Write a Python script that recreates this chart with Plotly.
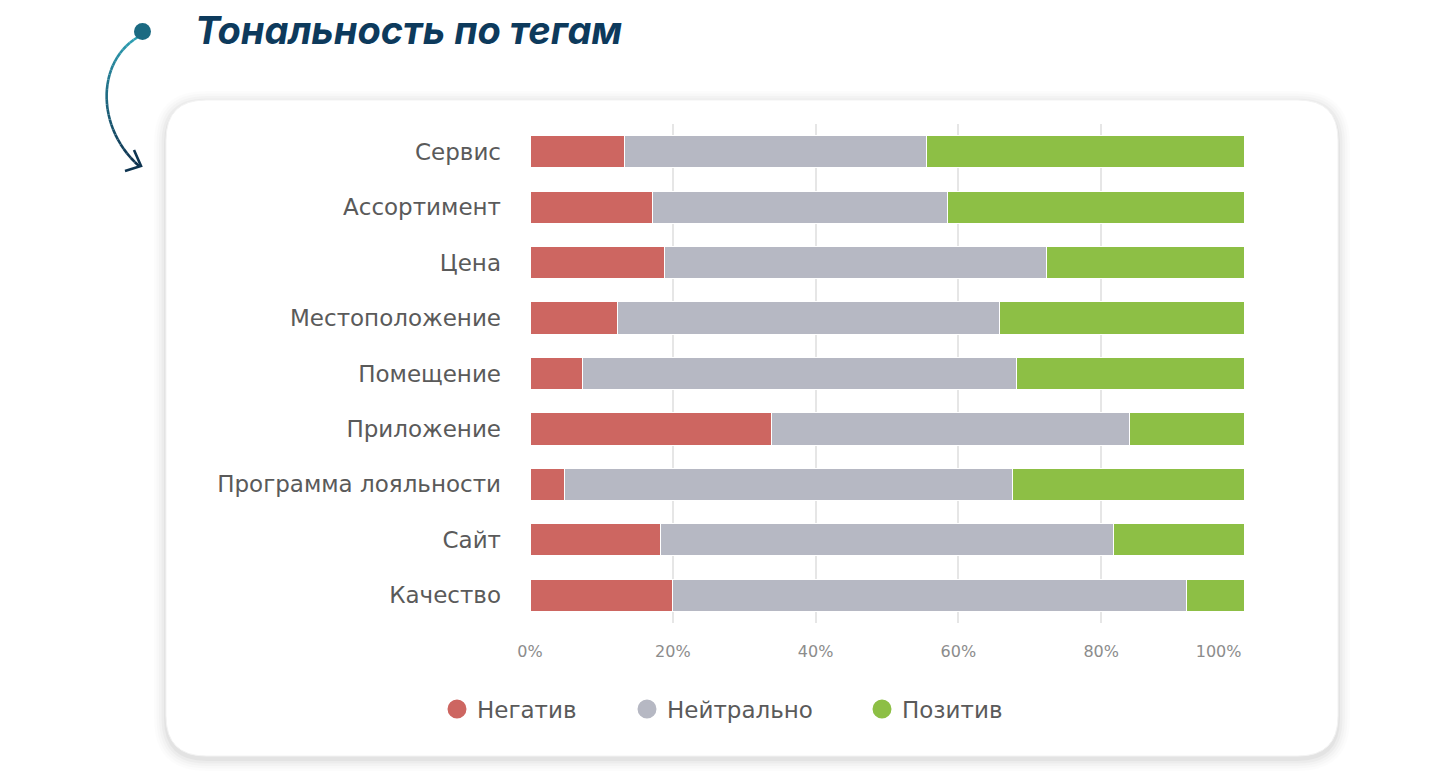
import plotly.graph_objects as go
import numpy as np

categories = ["Сервис", "Ассортимент", "Цена", "Местоположение", "Помещение",
              "Приложение", "Программа лояльности", "Сайт", "Качество"]
negative = [13.3, 17.1, 18.9, 12.2, 7.3, 33.8, 4.9, 18.3, 20.0]
neutral = [42.3, 41.4, 53.4, 53.6, 60.9, 50.1, 62.7, 63.4, 72.0]
positive = [44.4, 41.5, 27.7, 34.2, 31.8, 16.1, 32.4, 18.3, 8.0]
series_names = ["Негатив", "Нейтрально", "Позитив"]
tick_vals = [0, 20, 40, 60, 80, 100]
tick_text = ["0%", "20%", "40%", "60%", "80%", "100%"]
title_text = "Тональность по тегам"

colors = ["#cd6661", "#b6b8c3", "#8dbf45"]
FONT = "DejaVu Sans"

W, H = 1440, 781
L, R, T, B = 530, 196, 124, 158
PW, PH = W - L - R, H - T - B


def px(x):
    return (x - L) / PW


def py(y):
    return (H - B - y) / PH


fig = go.Figure()
for name, vals, c in zip(series_names, [negative, neutral, positive], colors):
    fig.add_trace(go.Bar(
        y=categories, x=vals, name=name, orientation="h",
        marker=dict(color=c, line=dict(color="white", width=1)),
        showlegend=False, width=0.58,
    ))

legend_keys = ["legend", "legend2", "legend3"]
for name, c, lk in zip(series_names, colors, legend_keys):
    fig.add_trace(go.Scatter(
        x=[None], y=[None], mode="markers", name=name,
        marker=dict(color=c, size=16, symbol="circle", line=dict(color=c, width=3)),
        legend=lk, showlegend=True,
    ))

shapes = []


def rrect(x0, y0, x1, y1, r):
    pts = [f"M {px(x0 + r)},{py(y0)}",
           f"L {px(x1 - r)},{py(y0)}",
           f"Q {px(x1)},{py(y0)} {px(x1)},{py(y0 + r)}",
           f"L {px(x1)},{py(y1 - r)}",
           f"Q {px(x1)},{py(y1)} {px(x1 - r)},{py(y1)}",
           f"L {px(x0 + r)},{py(y1)}",
           f"Q {px(x0)},{py(y1)} {px(x0)},{py(y1 - r)}",
           f"L {px(x0)},{py(y0 + r)}",
           f"Q {px(x0)},{py(y0)} {px(x0 + r)},{py(y0)} Z"]
    return " ".join(pts)


for i, op in enumerate([0.012, 0.016, 0.02, 0.026, 0.034]):
    d = 12 - i * 2.5
    shapes.append(dict(type="path", xref="paper", yref="paper", layer="below",
                       path=rrect(166 - d, 100 - d + 3, 1338 + d, 756 + d + 3, 40 + d),
                       fillcolor=f"rgba(0,0,0,{op})", line=dict(width=0)))
shapes.append(dict(type="path", xref="paper", yref="paper", layer="below",
                   path=rrect(166, 100, 1338, 756, 40),
                   fillcolor="white", line=dict(color="#f3f3f3", width=1)))

# decorative curved arrow with gradient
P0, P1, P2, P3 = np.array([138, 37]), np.array([96, 62]), np.array([96, 128]), np.array([139, 166])
ts = np.linspace(0, 1, 30)
c0, c1 = np.array([48, 165, 185]), np.array([14, 50, 78])
prev = None
for t in ts:
    p = (1 - t) ** 3 * P0 + 3 * (1 - t) ** 2 * t * P1 + 3 * (1 - t) * t ** 2 * P2 + t ** 3 * P3
    if prev is not None:
        col = c0 + (c1 - c0) * t
        shapes.append(dict(type="line", xref="paper", yref="paper",
                           x0=px(prev[0]), y0=py(prev[1]), x1=px(p[0]), y1=py(p[1]),
                           line=dict(color=f"rgb({int(col[0])},{int(col[1])},{int(col[2])})", width=2.6)))
    prev = p
shapes.append(dict(type="path", xref="paper", yref="paper",
                   path=f"M {px(125)},{py(171)} L {px(141)},{py(166)} L {px(134)},{py(150)}",
                   line=dict(color="#0e3450", width=2.6)))
shapes.append(dict(type="circle", xref="paper", yref="paper",
                   x0=px(134), y0=py(23), x1=px(151), y1=py(40),
                   fillcolor="#1b6a82", line=dict(width=0)))

tick_disp = list(tick_text)
tick_disp[-1] = tick_disp[-1] + "\u00a0" * 10

legend_font = dict(family=FONT, size=23, color="#5a5a5a")
fig.update_layout(
    width=W, height=H,
    margin=dict(l=L, r=R, t=T, b=B),
    paper_bgcolor="white", plot_bgcolor="rgba(0,0,0,0)",
    barmode="stack",
    shapes=shapes,
    font=dict(family=FONT, color="#5a5a5a"),
    xaxis=dict(range=[0, 100], tickvals=tick_vals, ticktext=tick_disp,
               showgrid=True, gridcolor="#e6e6e6", gridwidth=1.5,
               zeroline=False, showline=False,
               tickfont=dict(family=FONT, size=16, color="#8c8c8c"), ticklabelstandoff=17,
               fixedrange=True),
    yaxis=dict(autorange="reversed", showgrid=False, showline=False,
               tickfont=dict(family=FONT, size=23, color="#5a5a5a"), ticklabelstandoff=28,
               ticks=""),
    annotations=[dict(xref="paper", yref="paper", x=px(193), y=py(30),
                      xanchor="left", yanchor="middle", showarrow=False,
                      text=title_text,
                      font=dict(family="Inter", size=38, color="#0d3a5c",
                                weight="bold", style="italic"))],
    legend=dict(orientation="h", x=px(437), y=py(709), xanchor="left", yanchor="middle",
                font=legend_font, bgcolor="rgba(0,0,0,0)"),
    legend2=dict(orientation="h", x=px(627), y=py(709), xanchor="left", yanchor="middle",
                 font=legend_font, bgcolor="rgba(0,0,0,0)"),
    legend3=dict(orientation="h", x=px(862), y=py(709), xanchor="left", yanchor="middle",
                 font=legend_font, bgcolor="rgba(0,0,0,0)"),
)

fig.write_html("out.html")
